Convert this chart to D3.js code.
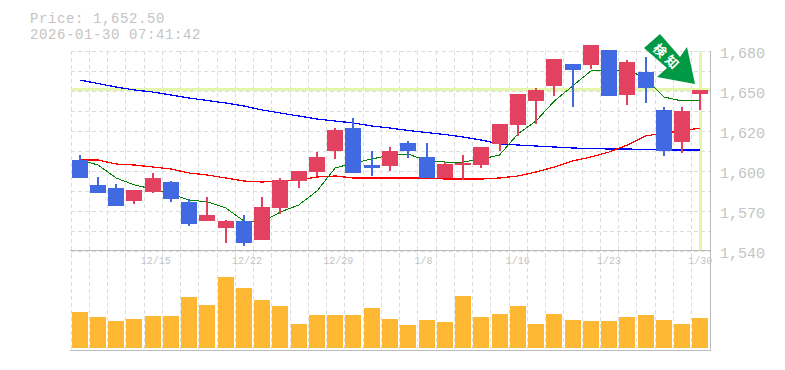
<!DOCTYPE html>
<html><head><meta charset="utf-8">
<style>
html,body{margin:0;padding:0;background:#fff;}
svg{display:block;}
text{font-family:"Liberation Mono",monospace;}
</style>
<script src="https://cdn.jsdelivr.net/npm/d3@7"></script>
</head><body>
<svg id="c" width="785" height="370"></svg>
<script>
const dates = ["12/9","12/10","12/11","12/12","12/15","12/16","12/17","12/18","12/19","12/22","12/23","12/24","12/25","12/26","12/29","12/30","1/5","1/6","1/7","1/8","1/9","1/13","1/14","1/15","1/16","1/19","1/20","1/21","1/22","1/23","1/26","1/27","1/28","1/29","1/30"];
const open  = [1603.5,1586,1584,1574.5,1581,1588,1574,1560.5,1555.5,1560.5,1547.5,1569.5,1588.5,1595,1609.5,1625.5,1600,1599,1615,1605.5,1590.5,1600,1600,1614.5,1628,1644.5,1655,1670.5,1670,1680.5,1649,1665,1638.5,1616,1649.5];
const close = [1590.5,1580,1571,1582.5,1590.5,1576,1558.5,1565,1560.5,1545,1570.5,1589.5,1595.5,1605.5,1624.5,1594.5,1597.5,1609.5,1609.5,1590.5,1600.5,1601.5,1612.5,1628.5,1649.5,1652.5,1674,1666.5,1684,1648,1672,1653.5,1609.5,1637.5,1652.5];
const high  = [1607,1591.5,1586.5,1582.5,1594,1588.5,1576,1577.5,1561.5,1565,1577.5,1590.5,1595.5,1609,1625.5,1632.5,1609.5,1612.5,1616.5,1615,1602,1607,1612.5,1628.5,1649.5,1654,1674,1670.5,1684,1680.5,1673.5,1675.5,1640.5,1640.5,1652.5];
const low   = [1590.5,1580,1571,1572.5,1580,1574,1557,1560.5,1545,1543,1547.5,1565.5,1583.5,1592,1604,1594.5,1592,1595.5,1604.5,1590.5,1590.5,1589.5,1598,1609.5,1620,1628.5,1648,1640.5,1667,1648,1642,1643,1606,1608,1638.5];
const maShort = [1603.35,1599.9,1590.75,1585.9,1583,1579.5,1575.35,1574,1569.75,1560.65,1560,1567,1571.85,1581.65,1597.75,1601.25,1604,1606.85,1607.55,1602.65,1601.95,1601.95,1604,1606.85,1621.55,1630.65,1644.65,1655.15,1665.65,1666.35,1666.35,1660.75,1647.45,1644.65,1645.35];
const maMid = [1603.35,1603.35,1600.55,1599.85,1598.45,1597.05,1594.25,1592.85,1590.75,1588.65,1587.95,1588.65,1589.35,1591.45,1592.15,1590.75,1590.75,1590.75,1590.75,1590.75,1590.05,1590.05,1590.05,1590.75,1592.15,1594.95,1598.45,1602.65,1605.45,1608.95,1613.85,1620.15,1622.25,1623.65,1625.75];
const maLong = [1659.35,1656.9,1654.45,1652.35,1650.95,1648.85,1646.75,1645,1643.25,1641.15,1638.35,1636.25,1634.15,1632.05,1630.65,1629.25,1627.15,1625.75,1624,1622.6,1621.2,1619.45,1617.35,1614.55,1613.85,1613.15,1612.45,1611.75,1611.4,1611.05,1611.05,1610.7,1610.35,1610.35,1610.35];
const volume = [36,31,27,29,32,32,51,43,71,60,48,42,24,33,33,33,40,29,23,28,26,52,31,34,42,24,34,28,27,27,31,33,28,24,30];
const priceTicks = [1680,1652,1624,1596,1568,1540];
const dateTicks = ["12/15","12/22","12/29","1/8","1/16","1/23","1/30"];
const lastPrice = 1652.5;
const titleLines = ["Price: 1,652.50","2026-01-30 07:41:42"];
const arrowLabel = ["検","知"];

const L=70.5,R=710.5,T=50.5,B=250.5,VT=250.5,VB=350.5;
const svg=d3.select("#c");
const x=d3.scaleBand().domain(dates).range([L,R-1]);
const cx=d=>x(d)+x.bandwidth()/2;
const y=d3.scaleLinear().domain([1680,1540]).range([T,B]);
const yv=d3.scaleLinear().domain([0,100]).range([348,248]);

// grid
const grid=svg.append("g").attr("stroke","#dcdcdc").attr("stroke-width",1).attr("stroke-dasharray","4,3").attr("shape-rendering","crispEdges");
const gridX=d3.range(36).map(i=>L+i*x.bandwidth());
grid.selectAll(".v").data(gridX).join("line").attr("x1",d=>Math.round(d)+0.5).attr("x2",d=>Math.round(d)+0.5).attr("y1",T).attr("y2",VB);
const gridY=d3.range(11).map(i=>T+i*(B-T)/10);
grid.selectAll(".h").data(gridY).join("line").attr("x1",L).attr("x2",R).attr("y1",d=>Math.round(d)+0.5).attr("y2",d=>Math.round(d)+0.5);

// highlight lines
svg.append("line").attr("x1",L).attr("x2",R).attr("y1",y(lastPrice)-0.3).attr("y2",y(lastPrice)-0.3).attr("stroke","#e3f6a9").attr("stroke-width",3).attr("shape-rendering","crispEdges");
svg.append("line").attr("x1",cx("1/30")).attr("x2",cx("1/30")).attr("y1",T).attr("y2",B).attr("stroke","#e3f6a9").attr("stroke-width",3).attr("shape-rendering","crispEdges");

// axes frame
const frame=svg.append("g").attr("stroke","#bbb").attr("stroke-width",1).attr("shape-rendering","crispEdges");
frame.append("line").attr("x1",L-1).attr("x2",R).attr("y1",VT).attr("y2",VT);
frame.append("line").attr("x1",L-1).attr("x2",R).attr("y1",VB).attr("y2",VB);
frame.append("line").attr("x1",R).attr("x2",R).attr("y1",T).attr("y2",VB);

// moving averages
const line=d3.line().x((d,i)=>cx(dates[i])).y(d=>y(d));
[[maLong,"#0000ff",1.25],[maMid,"#ff0000",1.25],[maShort,"#008000",1]].forEach(([s,c,w])=>{
  svg.append("path").attr("d",line(s)).attr("fill","none").attr("stroke",c).attr("stroke-width",w).attr("shape-rendering","crispEdges");
});

// candles
const colBlue="#4169e1",colRed="#e24260";
const candles=svg.append("g");
dates.forEach((d,i)=>{
  const up=close[i]>=open[i], c=up?colRed:colBlue, mid=Math.round(cx(d));
  candles.append("rect").attr("x",mid-1).attr("width",2).attr("y",Math.round(y(high[i]))).attr("height",Math.round(y(low[i]))-Math.round(y(high[i]))).attr("fill",c);
  const t=y(Math.max(open[i],close[i])), b=y(Math.min(open[i],close[i]));
  candles.append("rect").attr("x",mid-8).attr("width",16).attr("y",Math.round(t)).attr("height",Math.max(1,Math.round(b)-Math.round(t))).attr("fill",c);
});

// volume
svg.append("g").selectAll("rect").data(volume).join("rect")
  .attr("x",(d,i)=>Math.round(cx(dates[i]))-8).attr("width",16)
  .attr("y",d=>yv(d)).attr("height",d=>yv(0)-yv(d)).attr("fill","#ffb833");

// price axis
const yAxis=d3.axisRight(y).tickValues(priceTicks).tickSize(0).tickPadding(9.5)
  .tickFormat(d=>d3.format(",")(Math.round(d/10)*10));
const gy=svg.append("g").attr("transform",`translate(${R},2)`).call(yAxis);
gy.select(".domain").remove();
gy.selectAll("text").attr("fill","#c4c4c4").style("font-family",'"Liberation Mono",monospace').style("font-size","15px").attr("dy","0.32em");

// date axis
const xAxis=d3.axisBottom(x).tickValues(dateTicks).tickSize(0).tickPadding(0);
const gx=svg.append("g").attr("transform",`translate(0,${VT+6})`).call(xAxis);
gx.select(".domain").remove();
gx.selectAll("text").attr("fill","#c4c4c4").style("font-family",'"Liberation Mono",monospace').style("font-size","10px")
  .attr("text-anchor","start").attr("x",-12).attr("y",0).attr("dy","0.71em");

// title
svg.append("g").selectAll("text").data(titleLines).join("text")
  .attr("x",30).attr("y",(d,i)=>22.5+i*16).attr("fill","#c4c4c4").style("font-size","14px").style("letter-spacing","0.6px").text(d=>d);

// arrow annotation
const arrow=svg.append("g");
arrow.append("path").attr("d","M644,48L660,34L680,57L687,47L695,84L657,77L667,68Z").attr("fill","#009944");
arrow.selectAll("text").data(arrowLabel).join("text")
  .attr("text-anchor","middle").attr("dominant-baseline","central")
  .attr("transform",(d,i)=>`translate(${660.5+i*12},${50+i*11.5}) rotate(45)`)
  .attr("fill","#fff").style("font-family",'"Noto Sans CJK JP"').style("font-weight","700").style("font-size","13px").text(d=>d);
</script>
</body></html>
